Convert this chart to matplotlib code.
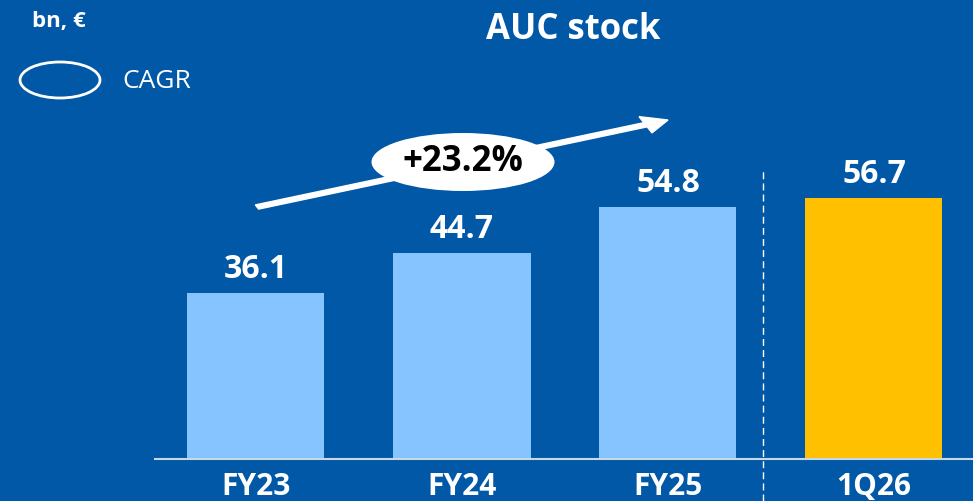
import matplotlib
matplotlib.use("Agg")
from matplotlib import pyplot as plt
from matplotlib.patches import Ellipse, FancyArrow

# data
categories = ["FY23", "FY24", "FY25", "1Q26"]
values = [36.1, 44.7, 54.8, 56.7]
cagr_label = "+23.2%"

bg = "#0058A6"
light_blue = "#86C4FF"
yellow = "#FFC000"
bar_colors = [light_blue, light_blue, light_blue, yellow]

plt.rcParams['font.family'] = ['Open Sans', 'DejaVu Sans']

W, H = 973, 501
fig = plt.figure(figsize=(W / 100, H / 100), dpi=100, facecolor=bg)
ax = fig.add_axes([0, 0, 1, 1])
ax.set_facecolor(bg)

# map pixels -> data: bar centres 206 px apart, 4.6 px per bn
px0, step, base, scale = 256, 206, 459, 4.6
ax.set_xlim((0 - px0) / step, (W - px0) / step)
ax.set_ylim((base - H) / scale, base / scale)
ax.axis("off")

x = list(range(len(categories)))
ax.bar(x, values, width=137 / step, color=bar_colors, zorder=2)

for xi, v in zip(x, values):
    ax.text(xi, v + 1.6, f"{v:.1f}", ha="center", va="bottom", color="white",
            fontsize=23, fontweight="bold")
for xi, c in zip(x, categories):
    ax.text(xi, -6, c, ha="center", va="center", color="white",
            fontsize=21.5, fontweight="bold")

# baseline
ax.plot([(155 - px0) / step, (W - px0) / step], [0, 0], color="#C9D6E4", lw=1.5, zorder=3)

# dashed separator between FY25 and 1Q26
sep = (763 - px0) / step
ax.plot([sep, sep], [(base - H) / scale, values[2] + 8], color="white", lw=1,
        ls=(0, (5, 3)), zorder=3)


def fxy(px, py):
    return px / W, 1 - py / H


# CAGR arrow
(x1, y1), (x2, y2) = fxy(257, 207), fxy(668, 120)
fig.patches.append(FancyArrow(x1, y1, x2 - x1, y2 - y1, width=0.009, head_width=0.035,
                              head_length=0.025, length_includes_head=True, color="white",
                              transform=fig.transFigure, figure=fig))
cx, cy = fxy(463, 162)
fig.patches.append(Ellipse((cx, cy), 183 / W, 58 / H, facecolor="white", edgecolor="none",
                           transform=fig.transFigure, figure=fig))
fig.text(cx, cy, cagr_label, ha="center", va="center", color="black", fontsize=25,
         fontweight="bold")

# title and unit
fig.text(*fxy(573, 30), "AUC stock", ha="center", va="center", color="white",
         fontsize=25, fontweight="bold")
fig.text(*fxy(32, 22), "bn, €", ha="left", va="center", color="white", fontsize=16,
         fontweight="bold")

# legend
lx, ly = fxy(60, 80)
fig.patches.append(Ellipse((lx, ly), 80 / W, 36 / H, facecolor="none", edgecolor="white", lw=2,
                           transform=fig.transFigure, figure=fig))
fig.text(*fxy(122, 81), "CAGR", ha="left", va="center", color="white", fontsize=19)

fig.savefig("out.png", dpi=100, facecolor=bg)
